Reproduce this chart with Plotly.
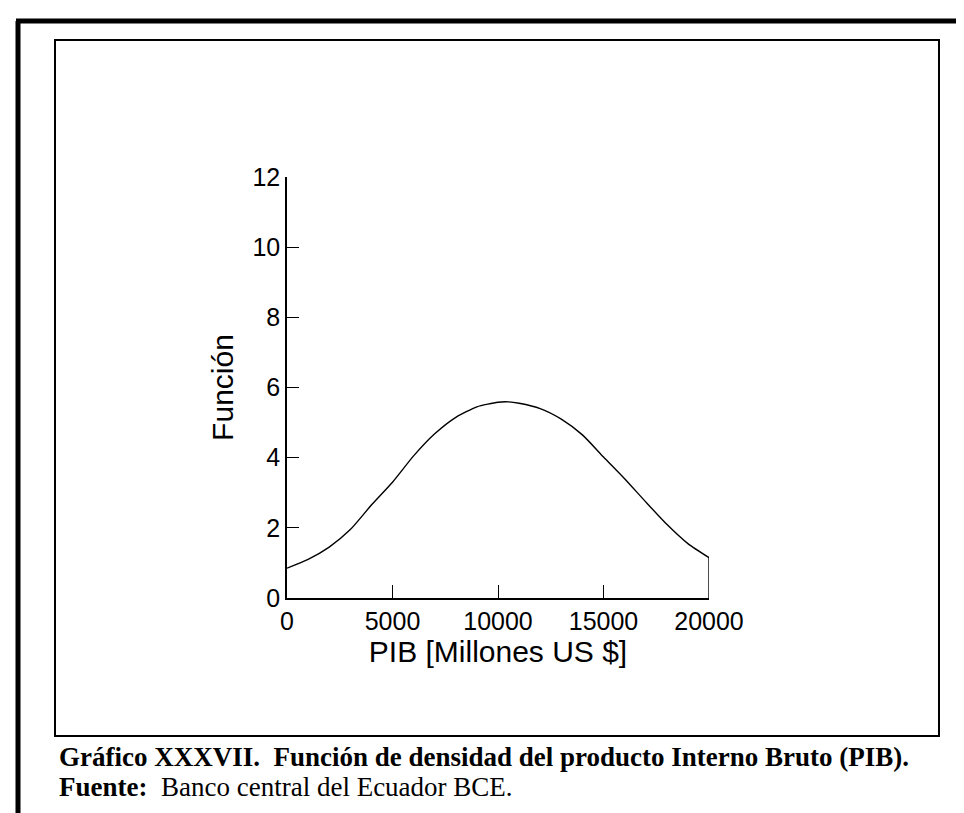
import plotly.graph_objects as go

# densidad del PIB (lectura del grafico)
pib = [0, 1000, 2000, 3000, 4000, 5000, 6000, 7000, 8000, 9000, 10000,
       10500, 11000, 12000, 13000, 14000, 15000, 16000, 17000, 18000, 19000, 20000]
funcion = [0.85, 1.10, 1.45, 1.95, 2.65, 3.30, 4.05, 4.68, 5.15, 5.45, 5.58,
           5.59, 5.55, 5.40, 5.10, 4.65, 4.02, 3.40, 2.74, 2.10, 1.55, 1.15]

x_ticks = [0, 5000, 10000, 15000, 20000]
x_labels = ["0", "5000", "10000", "15000", "20000"]
y_ticks = [0, 2, 4, 6, 8, 10, 12]

caption = "Gráfico XXXVII.  Función de densidad del producto Interno Bruto (PIB)."
fuente = "<b>Fuente:</b>  Banco central del Ecuador BCE."

W, H = 964, 813
L, R, T, B = 279, 701, 169, 590


def px(x):
    return (x - L) / (R - L)


def py(y):
    return (B - y) / (B - T)


fig = go.Figure()
fig.add_trace(go.Scatter(x=pib, y=funcion, mode="lines", line_shape="spline",
                         line=dict(color="black", width=1.4, smoothing=0.6),
                         showlegend=False))
# cierre vertical al final de la curva
fig.add_trace(go.Scatter(x=[pib[-1], pib[-1]], y=[funcion[-1], 0], mode="lines",
                         line=dict(color="black", width=1.4), showlegend=False))

fig.update_layout(
    width=W, height=H,
    margin=dict(l=L, r=W - R, t=T, b=H - B),
    paper_bgcolor="white", plot_bgcolor="white",
    font=dict(family="Liberation Sans, Arial", size=25, color="black"),
)

fig.update_xaxes(range=[0, 20000], tickvals=x_ticks, ticktext=x_labels,
                 ticks="inside", ticklen=13,
                 tickcolor="black", tickwidth=1.2, showline=True, linecolor="black",
                 linewidth=1.5, showgrid=False, zeroline=False,
                 title=dict(text="PIB [Millones US $]", standoff=2))
fig.update_yaxes(range=[0, 12], tickvals=y_ticks, ticks="inside", ticklen=12,
                 tickcolor="black", tickwidth=1.2, showline=True, linecolor="black",
                 linewidth=1.5, showgrid=False, zeroline=False,
                 title=dict(text="Función", standoff=10))

shapes = [
    # recuadro interior
    dict(type="rect", xref="paper", yref="paper",
         x0=px(47), x1=px(931), y0=py(728), y1=py(32),
         line=dict(color="black", width=2)),
    # borde exterior grueso
    dict(type="line", xref="paper", yref="paper",
         x0=px(10), x1=px(10), y0=py(13), y1=py(H + 5),
         line=dict(color="black", width=5)),
    dict(type="line", xref="paper", yref="paper",
         x0=px(8), x1=px(W + 5), y0=py(13), y1=py(13),
         line=dict(color="black", width=5)),
]
fig.update_layout(shapes=shapes)

fig.add_annotation(text="<b>" + caption + "</b>", xref="paper", yref="paper",
                   x=px(49), y=py(749), xanchor="left", yanchor="middle",
                   showarrow=False,
                   font=dict(family="Liberation Serif, Times New Roman", size=27))
fig.add_annotation(text=fuente, xref="paper", yref="paper",
                   x=px(49), y=py(779), xanchor="left", yanchor="middle",
                   showarrow=False,
                   font=dict(family="Liberation Serif, Times New Roman", size=27))

fig.write_html("out.html")
